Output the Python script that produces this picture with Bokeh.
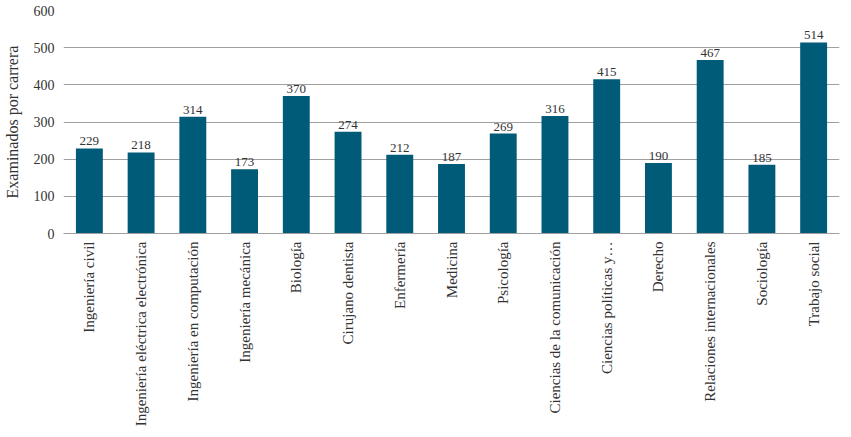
import math
from bokeh.plotting import figure
from bokeh.models import ColumnDataSource, FixedTicker, LabelSet, Range1d
from bokeh.embed import file_html
from bokeh.resources import INLINE

carreras = ["Ingeniería civil", "Ingeniería eléctrica electrónica", "Ingeniería en computación",
            "Ingeniería mecánica", "Biología", "Cirujano dentista", "Enfermería", "Medicina",
            "Psicología", "Ciencias de la comunicación", "Ciencias políticas y…", "Derecho",
            "Relaciones internacionales", "Sociología", "Trabajo social"]
examinados = [229, 218, 314, 173, 370, 274, 212, 187, 269, 316, 415, 190, 467, 185, 514]
y_ticks = [0, 100, 200, 300, 400, 500, 600]

FONT = "Liberation Serif"
TXT = "#333333"

src = ColumnDataSource(dict(x=carreras, y=examinados, lbl=[str(v) for v in examinados]))

p = figure(x_range=carreras, y_range=Range1d(0, 600), width=843, height=429,
           output_backend="svg", toolbar_location=None,
           min_border_left=10, min_border_right=4, min_border_top=10, min_border_bottom=10)
p.outline_line_color = None
p.background_fill_color = "white"
p.border_fill_color = "white"

p.vbar(x="x", top="y", width=0.52, source=src, fill_color="#005B78", line_color=None)

labels = LabelSet(x="x", y="y", text="lbl", source=src, text_align="center",
                  text_baseline="bottom", y_offset=3, text_font=FONT,
                  text_font_size="13px", text_color=TXT)
p.add_layout(labels)

p.xgrid.grid_line_color = None
p.ygrid.grid_line_color = "#A0A0A0"
p.ygrid.grid_line_width = 1
p.yaxis.ticker = FixedTicker(ticks=y_ticks)

p.yaxis.axis_line_color = None
p.yaxis.major_tick_line_color = None
p.yaxis.minor_tick_line_color = None
p.yaxis.major_tick_out = 0
p.yaxis.major_label_standoff = 9
p.yaxis.major_label_text_font = FONT
p.yaxis.major_label_text_font_size = "14px"
p.yaxis.major_label_text_color = TXT
p.yaxis.axis_label = "Examinados por carrera"
p.yaxis.axis_label_text_font = FONT
p.yaxis.axis_label_text_font_size = "16px"
p.yaxis.axis_label_text_font_style = "normal"
p.yaxis.axis_label_text_color = TXT
p.yaxis.axis_label_standoff = 10

p.xaxis.axis_line_color = "#A0A0A0"
p.xaxis.major_tick_line_color = None
p.xaxis.minor_tick_line_color = None
p.xaxis.major_tick_out = 0
p.xaxis.major_label_standoff = 8
p.xaxis.major_label_orientation = math.pi / 2
p.xaxis.major_label_text_font = FONT
p.xaxis.major_label_text_font_size = "15px"
p.xaxis.major_label_text_color = TXT

open("out.html", "w").write(file_html(p, INLINE))
